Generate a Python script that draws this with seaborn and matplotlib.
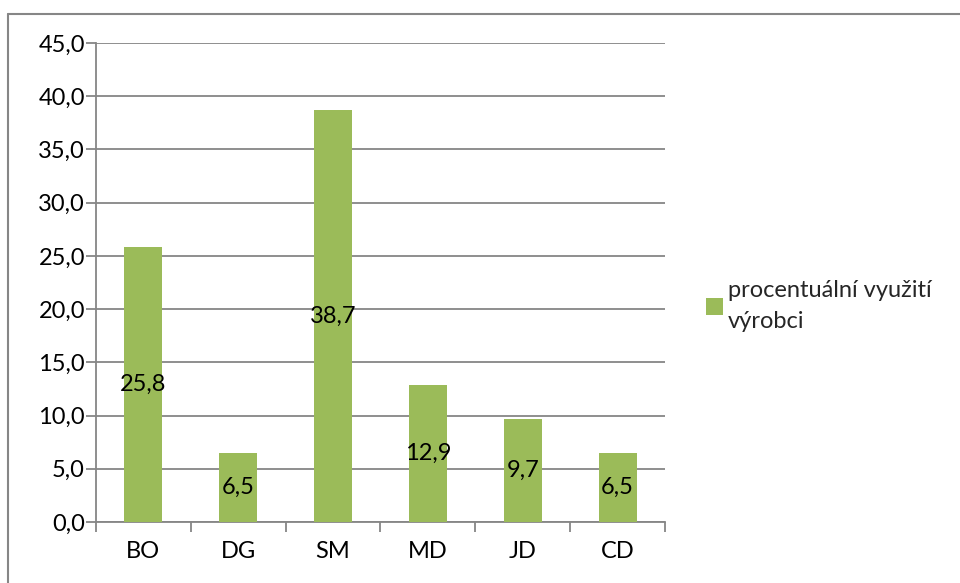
import matplotlib
matplotlib.use("Agg")
import matplotlib.pyplot as plt
import matplotlib.lines as mlines
from matplotlib.ticker import FuncFormatter, FixedLocator
import seaborn as sns
import pandas as pd

categories = ["BO", "DG", "SM", "MD", "JD", "CD"]
values = [25.8, 6.5, 38.7, 12.9, 9.7, 6.5]
series_name = "procentuální využití\nvýrobci"

sns.set_theme(style="white")
plt.rcParams["font.family"] = ["Lato", "DejaVu Sans"]

GREEN = "#9BBB59"
GRAY = "#868686"
FS = 17

df = pd.DataFrame({"kat": categories, "val": values})

fig = plt.figure(figsize=(9.6, 5.83), dpi=100)
ax = fig.add_axes([96 / 960, 1 - 522 / 583, (665 - 96) / 960, (522 - 43) / 583])

sns.barplot(data=df, x="kat", y="val", color=GREEN, width=0.4,
            saturation=1, linewidth=0, ax=ax, label=series_name, zorder=3)

ax.set_ylim(0, 45)
ax.set_xlim(-0.5, len(categories) - 0.5)
ax.set_yticks([i * 5 for i in range(10)])
ax.yaxis.set_major_formatter(FuncFormatter(lambda v, _: f"{v:.1f}".replace(".", ",")))
ax.grid(axis="y", color=GRAY, linewidth=1.3, zorder=0)
ax.set_axisbelow(True)
ax.set_xlabel("")
ax.set_ylabel("")

for side in ("top", "right"):
    ax.spines[side].set_visible(False)
for side in ("left", "bottom"):
    ax.spines[side].set_color(GRAY)
    ax.spines[side].set_linewidth(1.3)

# category boundaries carry the x tick marks
ax.xaxis.set_minor_locator(FixedLocator([i - 0.5 for i in range(len(categories) + 1)]))
ax.tick_params(axis="x", which="major", length=0, pad=14, labelsize=FS, colors="black")
ax.tick_params(axis="x", which="minor", length=7, width=1.3, color=GRAY, direction="out", bottom=True)
ax.tick_params(axis="y", which="major", length=7, width=1.3, color=GRAY, direction="out",
               left=True, labelsize=FS, labelcolor="black", pad=1)

# value labels centred inside each bar
for i, v in enumerate(values):
    ax.text(i, v / 2, f"{v:.1f}".replace(".", ","), ha="center", va="center",
            fontsize=FS, color="black", zorder=4)

handles, labels = ax.get_legend_handles_labels()
if ax.get_legend() is not None:
    ax.get_legend().remove()
leg = fig.legend(handles, labels, loc="upper left", bbox_to_anchor=(697 / 960, 1 - 271 / 583),
                 frameon=False, fontsize=FS, handlelength=0.7, handleheight=0.7,
                 handletextpad=0.2, borderaxespad=0)
for t in leg.get_texts():
    t.set_linespacing(1.55)

# outer chart frame (top and left edges visible)
fig.add_artist(mlines.Line2D([8 / 960, 1.0], [1 - 14 / 583, 1 - 14 / 583],
                             transform=fig.transFigure, color=GRAY, linewidth=1.5))
fig.add_artist(mlines.Line2D([8 / 960, 8 / 960], [1 - 14 / 583, 0.0],
                             transform=fig.transFigure, color=GRAY, linewidth=1.5))

fig.savefig("out.png", dpi=100)
